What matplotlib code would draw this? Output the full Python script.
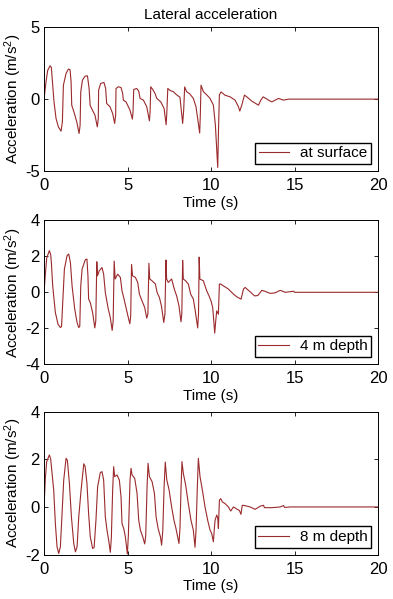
import numpy as np
import matplotlib
matplotlib.use('Agg')
from matplotlib import pyplot as plt

# time (s) / acceleration (m/s^2)
t_surface = [0.0, 0.12, 0.22, 0.36, 0.44, 0.52, 0.6, 0.72, 0.86, 1.02, 1.1, 1.16, 1.32, 1.46, 1.56, 1.62,
             1.66, 1.82, 1.96, 2.1, 2.16, 2.2, 2.3, 2.46, 2.6, 2.7, 2.76, 2.9, 3.05, 3.19, 3.25, 3.27,
             3.39, 3.59, 3.69, 3.75, 3.95, 4.11, 4.23, 4.29, 4.31, 4.45, 4.61, 4.71, 4.75, 4.91, 5.15,
             5.29, 5.33, 5.37, 5.55, 5.67, 5.75, 5.95, 6.15, 6.31, 6.35, 6.39, 6.51, 6.65, 6.75, 6.99,
             7.19, 7.31, 7.35, 7.41, 7.55, 7.74, 7.94, 8.14, 8.3, 8.36, 8.42, 8.54, 8.74, 8.94, 9.1,
             9.32, 9.36, 9.4, 9.54, 9.74, 9.94, 10.14, 10.26, 10.4, 10.45, 10.5, 10.6, 10.84, 11.14,
             11.44, 11.64, 11.72, 11.84, 12.0, 12.14, 12.44, 12.84, 12.98, 13.12, 13.44, 13.64, 13.84,
             14.04, 14.34, 14.64, 14.84, 20.0]
a_surface = [0.0, 1.2, 2.0, 2.32, 2.2, 0.97, -0.19, -1.35, -1.93, -2.23, -1.58, 0.97, 1.79, 2.09, 2.05, 1.2,
             -0.42, -1.0, -1.58, -2.39, -1.83, 0.51, 1.32, 1.6, 1.62, 0.74, -0.42, -0.77, -1.11, -1.93, -1.35, 0.63,
             1.09, 1.16, 0.74, -0.3, -0.53, -1.0, -1.69, -1.11, 0.74, 0.86, 0.81, 0.39, -0.07, -0.19, -0.77,
             -1.39, -0.9, 0.67, 0.74, 0.56, 0.05, -0.07, -0.53, -1.51, -0.9, 0.86, 0.67, 0.39, 0.05, -0.19,
             -0.65, -1.78, -1.0, 0.74, 0.6, 0.52, 0.3, 0.13, -1.69, -0.8, 0.85, 0.52, 0.35, 0.05, -0.53,
             -2.36, -1.0, 0.97, 0.52, 0.3, 0.05, -0.42, -1.81, -4.75, -2.0, 0.3, 0.5, 0.27, 0.16,
             -0.07, -0.53, -0.83, -0.42, 0.28, 0.16, -0.14, -0.42, -0.07, 0.16, -0.07, -0.19, -0.07,
             0.05, -0.07, 0.0, 0.0, 0.0]

t_4m = [0.0, 0.08, 0.16, 0.32, 0.4, 0.44, 0.52, 0.68, 0.84, 0.98, 1.05, 1.12, 1.22, 1.38, 1.48, 1.58,
        1.68, 1.84, 1.98, 2.08, 2.14, 2.2, 2.28, 2.47, 2.57, 2.63, 2.67, 2.77, 2.91, 3.04, 3.1, 3.16,
        3.2, 3.31, 3.47, 3.57, 3.67, 3.83, 3.97, 4.08, 4.14, 4.2, 4.26, 4.41, 4.57, 4.67, 4.77, 4.91,
        5.07, 5.14, 5.19, 5.24, 5.3, 5.47, 5.61, 5.71, 5.87, 6.03, 6.15, 6.22, 6.28, 6.33, 6.47, 6.67,
        6.77, 6.91, 7.03, 7.17, 7.24, 7.3, 7.34, 7.44, 7.64, 7.8, 7.94, 8.08, 8.2, 8.25, 8.3, 8.34,
        8.48, 8.64, 8.78, 8.94, 9.04, 9.2, 9.25, 9.29, 9.33, 9.54, 9.74, 9.88, 10.0, 10.1, 10.22, 10.28,
        10.34, 10.44, 10.5, 10.58, 10.74, 11.04, 11.34, 11.54, 11.8, 11.94, 12.04, 12.34, 12.6, 12.8,
        13.04, 13.24, 13.54, 13.84, 14.14, 14.44, 14.7, 14.95, 15.0, 20.0]
a_4m = [0.0, 1.0, 1.9, 2.32, 2.1, 1.66, 0.36, -1.13, -1.78, -1.96, -1.9, -0.57, 1.29, 2.04, 2.13, 1.66,
        0.36, -0.94, -1.69, -1.96, -1.9, 0.36, 1.29, 1.81, 1.85, 0.92, -0.38, -0.57, -1.13, -1.98, -1.6, 1.7,
        0.92, 1.2, 1.38, 1.01, -0.01, -0.85, -1.41, -2.12, -1.6, 1.74, 0.74, 1.01, 0.83, 0.08, -0.29, -0.85,
        -1.5, -1.75, -1.3, 1.55, 0.92, 0.83, 0.55, -0.1, -0.48, -0.85, -1.44, -1.2, 1.62, 0.74, 0.64, 0.46,
        -0.01, -0.29, -0.76, -1.68, -1.2, 1.8, 0.74, 0.55, 0.74, 0.18, -0.2, -0.75, -1.64, -1.2, 1.78, 0.74,
        0.64, 0.46, -0.1, -0.38, -0.94, -1.98, -1.2, 1.96, 0.74, 0.64, 0.08, -0.2, -0.48, -0.85, -2.27, -1.6,
        -1.03, -1.22, 0.46, 0.46, 0.36, 0.18, -0.1, -0.25, -0.38, 0.18, 0.27, 0.03, -0.2, -0.18,
        0.11, 0.05, -0.06, -0.03, 0.11, 0.0, 0.03, 0.06, 0.0, 0.0]

t_8m = [0.0, 0.08, 0.16, 0.32, 0.4, 0.58, 0.68, 0.78, 0.88, 0.98, 1.08, 1.18, 1.32, 1.4, 1.52, 1.64,
        1.78, 1.88, 1.98, 2.08, 2.22, 2.38, 2.46, 2.57, 2.67, 2.77, 2.91, 3.0, 3.11, 3.21, 3.37, 3.47,
        3.57, 3.67, 3.77, 3.87, 3.97, 4.03, 4.11, 4.17, 4.23, 4.37, 4.51, 4.61, 4.67, 4.77, 4.87, 4.99,
        5.05, 5.15, 5.21, 5.27, 5.43, 5.57, 5.67, 5.77, 5.91, 6.03, 6.09, 6.17, 6.23, 6.31, 6.47, 6.61,
        6.71, 6.83, 6.97, 7.04, 7.11, 7.19, 7.26, 7.35, 7.49, 7.64, 7.78, 7.9, 8.0, 8.08, 8.14, 8.2,
        8.26, 8.34, 8.48, 8.64, 8.8, 8.94, 9.04, 9.1, 9.18, 9.24, 9.34, 9.48, 9.64, 9.8, 9.94, 10.04,
        10.14, 10.2, 10.24, 10.34, 10.4, 10.44, 10.5, 10.58, 10.68, 10.84, 11.04, 11.18, 11.34, 11.5,
        11.7, 11.79, 11.87, 12.0, 12.34, 12.64, 12.94, 13.14, 13.2, 13.64, 14.14, 14.34, 14.4, 14.75, 20.0]
a_8m = [0.0, 1.2, 1.9, 2.18, 2.0, 0.71, -0.7, -1.67, -1.95, -1.67, -0.28, 1.13, 2.04, 1.95, 0.99, -0.41,
        -1.53, -1.88, -1.67, -0.41, 0.71, 1.81, 1.7, 0.99, -0.28, -1.25, -1.74, -1.7, -0.55, 0.85, 1.44, 1.48,
        1.13, -0.41, -0.97, -1.39, -1.9, -1.3, 0.71, 1.69, 1.27, 1.34, 1.13, 0.43, -0.7, -0.9, -1.25, -1.97,
        -1.2, 1.13, 1.62, 1.34, 1.2, 0.57, -0.56, -0.97, -1.25, -1.55, -1.2, 0.85, 1.83, 1.27, 1.06, 0.57,
        -0.41, -0.9, -1.25, -1.6, -1.0, 0.85, 1.88, 1.13, 0.71, 0.0, -0.56, -0.9, -1.25, -1.53, -0.9, 0.71,
        1.9, 1.41, 0.92, 0.14, -0.56, -0.97, -1.69, -1.0, 0.85, 2.04, 1.27, 0.71, 0.0, -0.56, -0.97, -1.11,
        -1.46, -0.9, -0.56, -0.34, -0.45, -0.9, 0.28, 0.35, 0.21, 0.14, 0.0, -0.17, 0.0, -0.07,
        -0.15, -0.31, 0.07, 0.06, 0.0, -0.1, 0.03, 0.07, -0.03, -0.03, 0.0, 0.06, -0.02, 0.0, 0.0]

labels = ['at surface', '4 m depth', '8 m depth']
ylims = [(-5, 5), (-4, 4), (-2, 4)]
yticks = [[-5, 0, 5], [-4, -2, 0, 2, 4], [-2, 0, 2, 4]]
xticks = [0, 5, 10, 15, 20]

plt.rcParams['font.family'] = ['Liberation Sans', 'DejaVu Sans']
plt.rcParams['mathtext.fontset'] = 'custom'
plt.rcParams['mathtext.rm'] = 'Liberation Sans'
plt.rcParams['mathtext.it'] = 'Liberation Sans'
plt.rcParams['axes.unicode_minus'] = False
plt.rcParams['font.size'] = 11

fig = plt.figure(figsize=(3.93, 5.99), dpi=100)
boxes = [[0.112, 0.7145, 0.850, 0.2400],
         [0.112, 0.3920, 0.850, 0.2400],
         [0.112, 0.0740, 0.850, 0.2390]]
series = [(t_surface, a_surface), (t_4m, a_4m), (t_8m, a_8m)]

for i in range(3):
    ax = fig.add_axes(boxes[i])
    ax.plot(series[i][0], series[i][1], color='#9a2a2c', lw=0.8, label=labels[i])
    ax.set_xlim(0, 20)
    ax.set_ylim(*ylims[i])
    ax.set_xticks(xticks)
    ax.set_yticks(yticks[i])
    ax.tick_params(direction='in', top=True, right=True, length=3, width=0.6, labelsize=12)
    ax.tick_params(axis='x', pad=5)
    ax.tick_params(axis='y', pad=3)
    for s in ax.spines.values():
        s.set_linewidth(0.7)
    ax.set_xlabel('Time (s)', labelpad=2)
    ax.set_ylabel('Acceleration (m/s$^2$)', labelpad=1)
    ax.legend(loc='lower right', fancybox=False, edgecolor='black', framealpha=1,
              handlelength=2.0, handletextpad=0.7, borderpad=0.25, borderaxespad=0.45)
    if i == 0:
        ax.set_title('Lateral acceleration', fontsize=11, pad=6)

plt.savefig('out.png', dpi=100)
